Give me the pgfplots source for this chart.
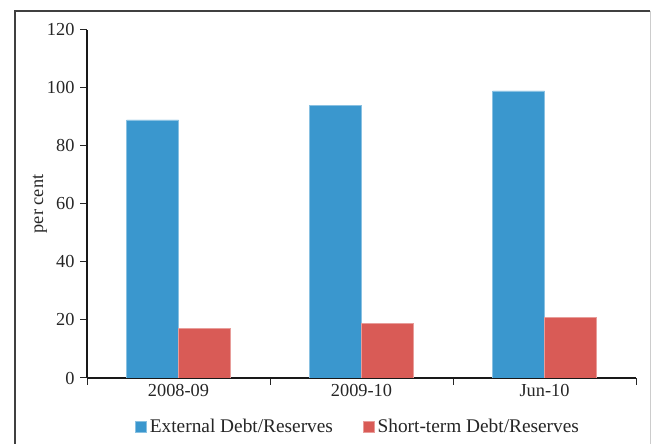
\documentclass[border=0pt]{standalone}
\usepackage{fontspec}
\setmainfont{Liberation Serif}
\usepackage{pgfplots}
\pgfplotsset{compat=1.18}
\definecolor{extblue}{HTML}{3A97CE}
\definecolor{strred}{HTML}{D95B56}
\begin{document}
\begin{tikzpicture}[x=1pt,y=1pt]
% fixed page: 1px = 0.6pt, origin at the axis' lower-left corner
\useasboundingbox (-52.2,-39.6) rectangle (338.4,226.8);
\begin{axis}[
  at={(0,0)}, anchor=origin,
  scale only axis,
  width=329.4pt, height=208.8pt,
  xmin=0, xmax=3, ymin=0, ymax=120,
  ybar=0pt, bar width=31.2pt,
  axis x line*=bottom, axis y line*=left,
  axis line style={line width=1.1pt, black!90},
  xtick={0,1,2,3},
  xticklabels={},
  extra x ticks={0.5,1.5,2.5},
  extra x tick labels={2008-09,2009-10,Jun-10},
  extra x tick style={major tick length=0pt},
  x tick style={black!85, line width=0.6pt},
  ytick={0,20,...,120},
  y tick style={black!85, line width=0.6pt},
  tick align=outside, major tick length=4pt,
  tick label style={font=\fontsize{11}{12}\selectfont, text=black!85},
  /pgf/number format/assume math mode=true,
  xticklabel style={yshift=0pt},
  ylabel={per cent},
  ylabel style={font=\fontsize{11}{12}\selectfont, text=black!85,
    at={(axis description cs:-0.0856,0.5)}, anchor=center},
  legend style={at={(0.495,-0.141)}, anchor=center, draw=none, legend columns=2,
    font=\fontsize{11.6}{12.5}\selectfont, text=black!85,
    /tikz/every even column/.append style={column sep=16pt}},
  legend image code/.code={\fill[#1] (0pt,-3.2pt) rectangle (6.4pt,3.2pt);},
]
\addplot[fill=extblue, draw=extblue!60!white, line width=0.4pt] coordinates {(0.5,89) (1.5,94) (2.5,99)};
\addplot[fill=strred, draw=strred!60!white, line width=0.4pt] coordinates {(0.5,17.2) (1.5,18.7) (2.5,20.8)};
\legend{External Debt/Reserves, Short-term Debt/Reserves}
\end{axis}
% surrounding frame
\draw[black!75, line width=1.1pt] (-43.2,-45) -- (-43.2,220.2) -- (337.8,220.2);
\draw[black!20, line width=0.6pt] (337.8,220.2) -- (337.8,-45);
\end{tikzpicture}
\end{document}
